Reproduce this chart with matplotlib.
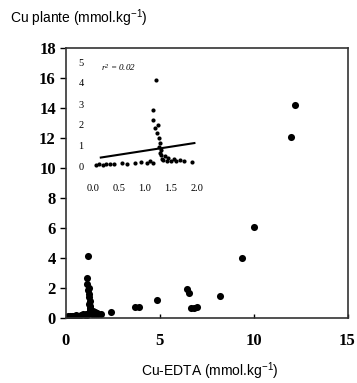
import matplotlib
matplotlib.use("Agg")
import matplotlib.pyplot as plt

# data
low_x = [0.05, 0.12, 0.19, 0.25, 0.33, 0.40, 0.55, 0.65, 0.80, 0.93, 1.03, 1.10,
         1.15, 1.16, 1.15, 1.20, 1.22, 1.24, 1.27, 1.28, 1.30, 1.30, 1.32, 1.35,
         1.38, 1.42, 1.45, 1.50, 1.55, 1.60, 1.67, 1.75, 1.90, 1.26, 1.25, 1.29]
low_y = [0.10, 0.12, 0.10, 0.15, 0.14, 0.16, 0.18, 0.15, 0.20, 0.25, 0.18, 0.30,
         0.18, 2.70, 2.24, 1.84, 4.14, 1.60, 1.38, 1.13, 0.80, 0.55, 0.40, 0.35,
         0.50, 0.30, 0.45, 0.28, 0.40, 0.30, 0.35, 0.28, 0.25, 0.95, 2.00, 0.65]
high_x = [2.4, 3.7, 3.9, 4.85, 6.45, 6.55, 6.7, 6.85, 7.0, 8.2, 9.4, 10.0, 12.0, 12.2]
high_y = [0.42, 0.75, 0.75, 1.2, 1.95, 1.7, 0.65, 0.7, 0.75, 1.45, 4.0, 6.1, 12.1, 14.2]
fit_x = [0.15, 1.95]
fit_y = [0.45, 1.14]
r2_text = "r$^2$ = 0.02"

plt.rcParams['mathtext.default'] = 'regular'

fig = plt.figure(figsize=(3.57, 3.83), dpi=100)
W, H = 357, 383

# main axes
ax = fig.add_axes([65.5 / W, 1 - 318 / H, 282 / W, 270 / H])
ax.scatter(low_x + high_x, low_y + high_y, s=26, color='black', linewidths=0)
ax.set_xlim(0, 15)
ax.set_ylim(0, 18)
ax.set_xticks([0, 5, 10, 15])
ax.set_yticks(range(0, 19, 2))
ax.tick_params(axis='y', direction='out', length=4, width=1, pad=3)
ax.tick_params(axis='x', direction='in', length=3, width=1, pad=11)
for lab in ax.get_xticklabels() + ax.get_yticklabels():
    lab.set_family('Liberation Serif')
    lab.set_fontweight('bold')
    lab.set_fontsize(12)
for sp in ax.spines.values():
    sp.set_linewidth(1.2)
    sp.set_color('#333333')

fig.text(10 / W, 1 - 18 / H, "Cu plante (mmol.kg$^{-1}$)", family='Liberation Sans',
         fontsize=10, ha='left', va='center')
fig.text(210 / W, 1 - 371 / H, "Cu-EDTA (mmol.kg$^{-1}$)", family='Liberation Sans',
         fontsize=10, ha='center', va='center')

# inset
ins = fig.add_axes([87.8 / W, 1 - 171.2 / H, 114.4 / W, 113.4 / H])
ins.patch.set_alpha(0)
ins.scatter(low_x, low_y, s=9, color='black', linewidths=0)
ins.plot(fit_x, fit_y, color='black', lw=1.5)
ins.set_xlim(-0.1, 2.1)
ins.set_ylim(-0.2, 5.2)
ins.set_xticks([0.0, 0.5, 1.0, 1.5, 2.0])
ins.set_xticklabels(["0.0", "0.5", "1.0", "1.5", "2.0"])
ins.set_yticks(range(0, 6))
for sp in ins.spines.values():
    sp.set_visible(False)
ins.tick_params(axis='both', length=0, labelsize=7.5)
ins.tick_params(axis='x', pad=9)
ins.tick_params(axis='y', pad=3)
for lab in ins.get_xticklabels() + ins.get_yticklabels():
    lab.set_family('Liberation Serif')
ins.text(0.15, 4.55, r2_text, family='Liberation Serif', style='italic', fontsize=6.5)

fig.savefig("out.png", dpi=100)
